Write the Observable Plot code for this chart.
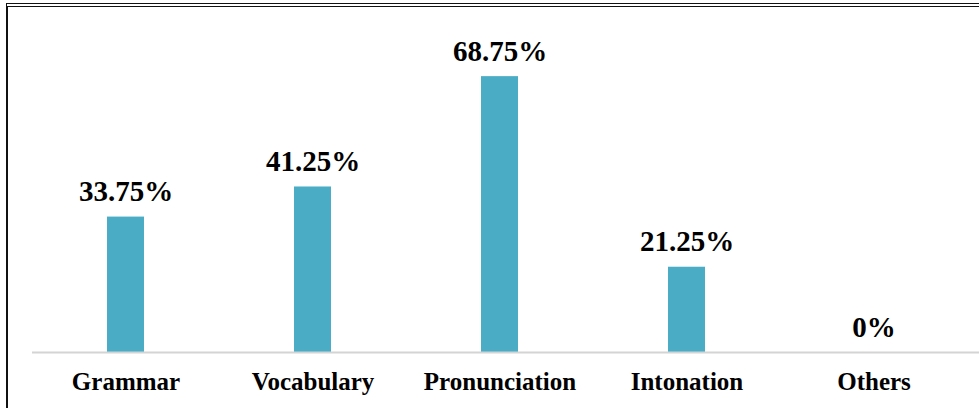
<!DOCTYPE html>
<html>
<head>
<meta charset="utf-8">
<script src="https://cdn.jsdelivr.net/npm/d3@7"></script>
<script src="https://cdn.jsdelivr.net/npm/@observablehq/plot@0.6"></script>
<style>
  html, body { margin: 0; padding: 0; background: #fff; }
  #wrap { position: relative; width: 979px; height: 408px; overflow: hidden; }
  #frame { position: absolute; left: 6px; top: 3px; right: -10px; bottom: -10px;
           border-top: 4px double #111; border-left: 2px solid #111; pointer-events: none; }
  svg { display: block; }
</style>
</head>
<body>
<div id="wrap"><div id="chart"></div><div id="frame"></div></div>
<script>
const categories = ["Grammar", "Vocabulary", "Pronunciation", "Intonation", "Others"];
const values = [33.75, 41.25, 68.75, 21.25, 0];
const valueLabels = ["33.75%", "41.25%", "68.75%", "21.25%", "0%"];

const data = categories.map((c, i) => ({category: c, value: values[i], label: valueLabels[i]}));
const font = "'Liberation Serif', 'Times New Roman', serif";

const chart = Plot.plot({
  width: 979,
  height: 408,
  marginTop: 31,
  marginBottom: 56,
  marginLeft: 32,
  marginRight: 0,
  style: {fontFamily: font, background: "transparent"},
  x: {domain: categories, range: [32.5, 967.5], paddingInner: 0.8, paddingOuter: 0.4, label: null},
  y: {domain: [0, 80], axis: null},
  marks: [
    Plot.barY(data, {x: "category", y: "value", fill: "#4BACC6"}),
    Plot.ruleY([0], {stroke: "#d4d4d4", strokeWidth: 2}),
    Plot.text(data, {x: "category", y: "value", text: "label", dy: -16, lineAnchor: "bottom",
      fontSize: 29, fontWeight: "bold", fill: "#000"}),
    Plot.axisX({tickSize: 0, tickPadding: 20, fontSize: 25, fontWeight: "bold", fill: "#000", label: null})
  ]
});
document.getElementById("chart").appendChild(chart);
</script>
</body>
</html>
